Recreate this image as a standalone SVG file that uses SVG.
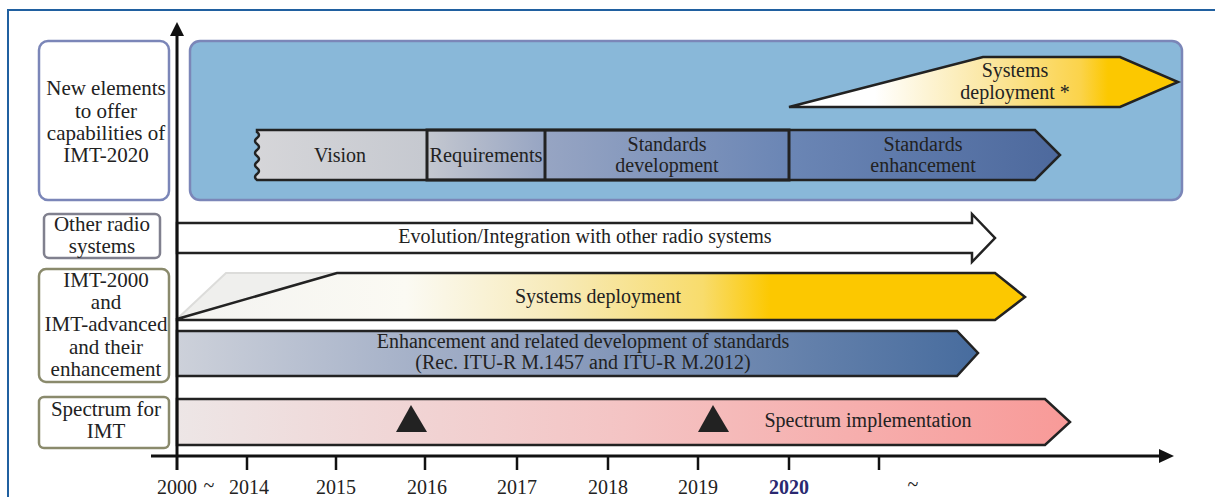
<svg xmlns="http://www.w3.org/2000/svg" width="1215" height="497" viewBox="0 0 1215 497" font-family="'Liberation Serif', 'DejaVu Serif', serif">
<style>
text{font-family:'Liberation Serif', 'DejaVu Serif', serif;font-size:20px;fill:#222;text-anchor:middle}
.lt{font-size:21px}
.lbl{fill:#fff;stroke-width:2.5}
.bar{stroke:#222;stroke-width:2.5;stroke-linejoin:miter}
.axis{stroke:#111;stroke-width:3;fill:none}
.tick{stroke:#111;stroke-width:2.5}
.yr{font-size:20px}
</style>
<defs>
<linearGradient id="gVision" gradientUnits="userSpaceOnUse" x1="253" y1="0" x2="1060" y2="0">
<stop offset="0" stop-color="#d6d6d9"/><stop offset="0.21" stop-color="#c6c9d0"/><stop offset="0.36" stop-color="#97a5c3"/><stop offset="0.66" stop-color="#6b86b5"/><stop offset="1" stop-color="#4d699d"/>
</linearGradient>
<linearGradient id="gSys1" gradientUnits="userSpaceOnUse" x1="789" y1="0" x2="1178" y2="0">
<stop offset="0" stop-color="#ffffff"/><stop offset="0.22" stop-color="#ffffff"/><stop offset="0.5" stop-color="#fbe8a6"/><stop offset="0.75" stop-color="#fbd34a"/><stop offset="0.82" stop-color="#fcc800"/><stop offset="1" stop-color="#fcc800"/>
</linearGradient>
<linearGradient id="gSys2" gradientUnits="userSpaceOnUse" x1="177" y1="0" x2="1025" y2="0">
<stop offset="0" stop-color="#f3f3f1"/><stop offset="0.27" stop-color="#fbfaf3"/><stop offset="0.45" stop-color="#f7eab8"/><stop offset="0.62" stop-color="#f8dc6c"/><stop offset="0.7" stop-color="#fcc800"/><stop offset="1" stop-color="#fcc800"/>
</linearGradient>
<linearGradient id="gEnh" gradientUnits="userSpaceOnUse" x1="177" y1="0" x2="978" y2="0">
<stop offset="0" stop-color="#cdd1da"/><stop offset="0.45" stop-color="#90a0bf"/><stop offset="1" stop-color="#476c9e"/>
</linearGradient>
<linearGradient id="gSpec" gradientUnits="userSpaceOnUse" x1="177" y1="0" x2="1070" y2="0">
<stop offset="0" stop-color="#ede6e6"/><stop offset="0.5" stop-color="#f4c4c4"/><stop offset="1" stop-color="#f89a98"/>
</linearGradient>
</defs>

<rect x="8" y="10" width="1220" height="500" fill="#fff" stroke="#2060a0" stroke-width="2"/>

<g id="panel">
<rect x="190" y="41" width="992" height="159" rx="10" fill="#89b8d9" stroke="#7b86b8" stroke-width="2.5"/>
</g>

<g id="label-new">
<rect class="lbl" x="39" y="41" width="130" height="159" rx="9" stroke="#7b86b8"/>
<text class="lt" x="106" y="95">New elements</text>
<text class="lt" x="106" y="118">to offer</text>
<text class="lt" x="106" y="140">capabilities of</text>
<text class="lt" x="106" y="162">IMT-2020</text>
</g>
<g id="label-other">
<rect class="lbl" x="44" y="214" width="116" height="44" rx="5" stroke="#80808e"/>
<text class="lt" x="102" y="231">Other radio</text>
<text class="lt" x="102" y="253">systems</text>
</g>
<g id="label-imt">
<rect class="lbl" x="39" y="269" width="130" height="113" rx="7" stroke="#8a8a6c"/>
<text class="lt" x="106" y="287">IMT-2000</text>
<text class="lt" x="106" y="309">and</text>
<text class="lt" x="106" y="331">IMT-advanced</text>
<text class="lt" x="106" y="354">and their</text>
<text class="lt" x="106" y="376">enhancement</text>
</g>
<g id="label-spectrum">
<rect class="lbl" x="39" y="397" width="130" height="51" rx="5" stroke="#8a8a6c"/>
<text class="lt" x="106" y="416">Spectrum for</text>
<text class="lt" x="106" y="438">IMT</text>
</g>

<g id="sysdep-2020">
<path class="bar" d="M789,107 L983,57 L1120,57 L1178,82 L1120,107 Z" fill="url(#gSys1)"/>
<text x="1015" y="77">Systems</text>
<text x="1015" y="99">deployment *</text>
</g>

<g id="vision-chain">
<path class="bar" d="M257,130 L1035,130 L1060,155 L1035,180 L257,180 Q253,177 257,174 Q261,171 257,168 Q253,165 257,162 Q261,159 257,156 Q253,153 257,150 Q261,147 257,144 Q253,141 257,138 Q261,135 257,132 Z" fill="url(#gVision)"/>
<rect x="427" y="130" width="362" height="50" fill="none" stroke="#222" stroke-width="3"/>
<line x1="545" y1="130" x2="545" y2="180" stroke="#222" stroke-width="3"/>
<text x="340" y="162">Vision</text>
<text x="486" y="162" textLength="113" lengthAdjust="spacingAndGlyphs">Requirements</text>
<text x="667" y="151">Standards</text>
<text x="667" y="172">development</text>
<text x="923" y="151">Standards</text>
<text x="923" y="172">enhancement</text>
</g>

<g id="evolution">
<path class="bar" d="M177,223 L972,223 L972,214 L995,238 L972,262 L972,253 L177,253 Z" fill="#fff"/>
<text x="585" y="243">Evolution/Integration with other radio systems</text>
</g>

<g id="sysdep-imt">
<path d="M177,319 L226,273 L337,273 Z" fill="#efefed" stroke="#dcdcda" stroke-width="2"/>
<path class="bar" d="M177,319 L337,273 L995,273 L1025,297 L995,320 L177,320 Z" fill="url(#gSys2)"/>
<text x="598" y="303">Systems deployment</text>
</g>

<g id="enhancement">
<path class="bar" d="M177,331 L957,331 L978,353 L957,376 L177,376 Z" fill="url(#gEnh)"/>
<text x="583" y="348">Enhancement and related development of standards</text>
<text x="583" y="369">(Rec. ITU-R M.1457 and ITU-R M.2012)</text>
</g>

<g id="spectrum">
<path class="bar" d="M177,399 L1045,399 L1070,422 L1045,445 L177,445 Z" fill="url(#gSpec)"/>
<path d="M411,405 L427,432 L396,432 Z" fill="#222"/>
<path d="M713,405 L729,432 L698,432 Z" fill="#222"/>
<text x="868" y="427">Spectrum implementation</text>
</g>

<g id="axes">
<line class="axis" x1="177" y1="33" x2="177" y2="470"/>
<path d="M177,22 L184,36 L170,36 Z" fill="#111"/>
<line class="axis" x1="151" y1="456" x2="1160" y2="456"/>
<path d="M1174,456 L1159,449 L1159,463 Z" fill="#111"/>
<line class="tick" x1="247" y1="456" x2="247" y2="470"/>
<line class="tick" x1="336" y1="456" x2="336" y2="470"/>
<line class="tick" x1="425" y1="456" x2="425" y2="470"/>
<line class="tick" x1="517" y1="456" x2="517" y2="470"/>
<line class="tick" x1="608" y1="456" x2="608" y2="470"/>
<line class="tick" x1="698" y1="456" x2="698" y2="470"/>
<line class="tick" x1="789" y1="456" x2="789" y2="470"/>
<line class="tick" x1="879" y1="456" x2="879" y2="470"/>
<text class="yr" x="177" y="494">2000</text>
<text class="yr" x="209" y="492">~</text>
<text class="yr" x="249" y="494">2014</text>
<text class="yr" x="336" y="494">2015</text>
<text class="yr" x="427" y="494">2016</text>
<text class="yr" x="517" y="494">2017</text>
<text class="yr" x="608" y="494">2018</text>
<text class="yr" x="698" y="494">2019</text>
<text class="yr" x="789" y="494" style="font-weight:bold;fill:#2a2870">2020</text>
<text class="yr" x="913" y="491">~</text>
</g>
</svg>
